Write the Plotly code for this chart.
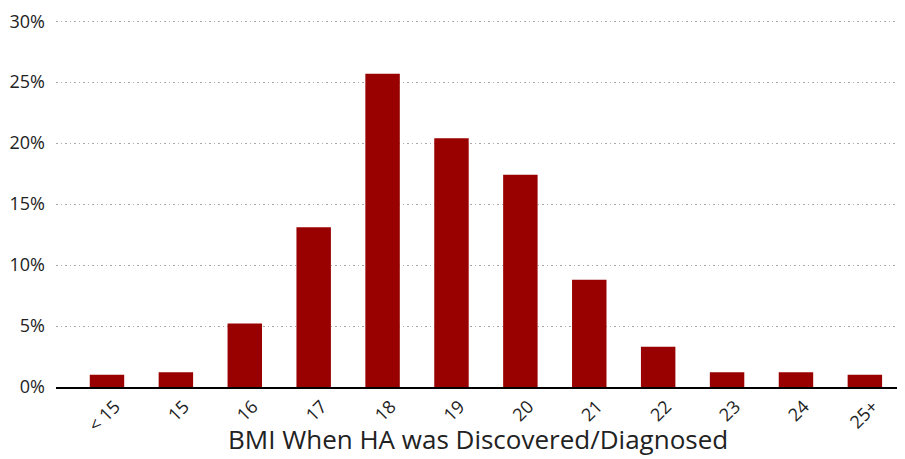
import plotly.graph_objects as go

categories = ["< 15", "15", "16", "17", "18", "19", "20", "21", "22", "23", "24", "25+"]
percent_values = [1.0, 1.2, 5.2, 13.1, 25.7, 20.4, 17.4, 8.8, 3.3, 1.2, 1.2, 1.0]
y_ticks = [0, 5, 10, 15, 20, 25, 30]
y_tick_labels = ["0%", "5%", "10%", "15%", "20%", "25%", "30%"]
x_title = "BMI When HA was Discovered/Diagnosed"

fig = go.Figure(
    go.Bar(
        x=categories,
        y=percent_values,
        marker=dict(color="#990000", line=dict(width=0)),
        width=0.5,
    )
)

fig.update_layout(
    width=897,
    height=451,
    margin=dict(l=48, r=5, t=12, b=72),
    paper_bgcolor="white",
    plot_bgcolor="white",
    showlegend=False,
    font=dict(family="Open Sans, DejaVu Sans, sans-serif", color="#222"),
)

fig.update_xaxes(
    type="category",
    range=[-0.74, 11.51],
    tickangle=-45,
    tickfont=dict(size=18, color="#222"),
    showline=True,
    linecolor="black",
    linewidth=2,
    showgrid=False,
    ticks="",
    ticklabelshift=8,
    automargin=False,
)

fig.update_yaxes(
    range=[0, 30.1],
    tickvals=y_ticks,
    ticktext=y_tick_labels,
    tickfont=dict(size=18, color="#222"),
    showgrid=True,
    gridcolor="#a8a8a8",
    griddash="1.5px,3px",
    gridwidth=1,
    zeroline=False,
    showline=False,
    ticks="",
    ticklabelstandoff=10,
    automargin=False,
)

fig.add_annotation(
    text=x_title,
    xref="paper",
    yref="paper",
    x=0.5,
    y=-0.142,
    xanchor="center",
    yanchor="middle",
    showarrow=False,
    font=dict(size=26, color="#222"),
)

fig.write_html("out.html")
